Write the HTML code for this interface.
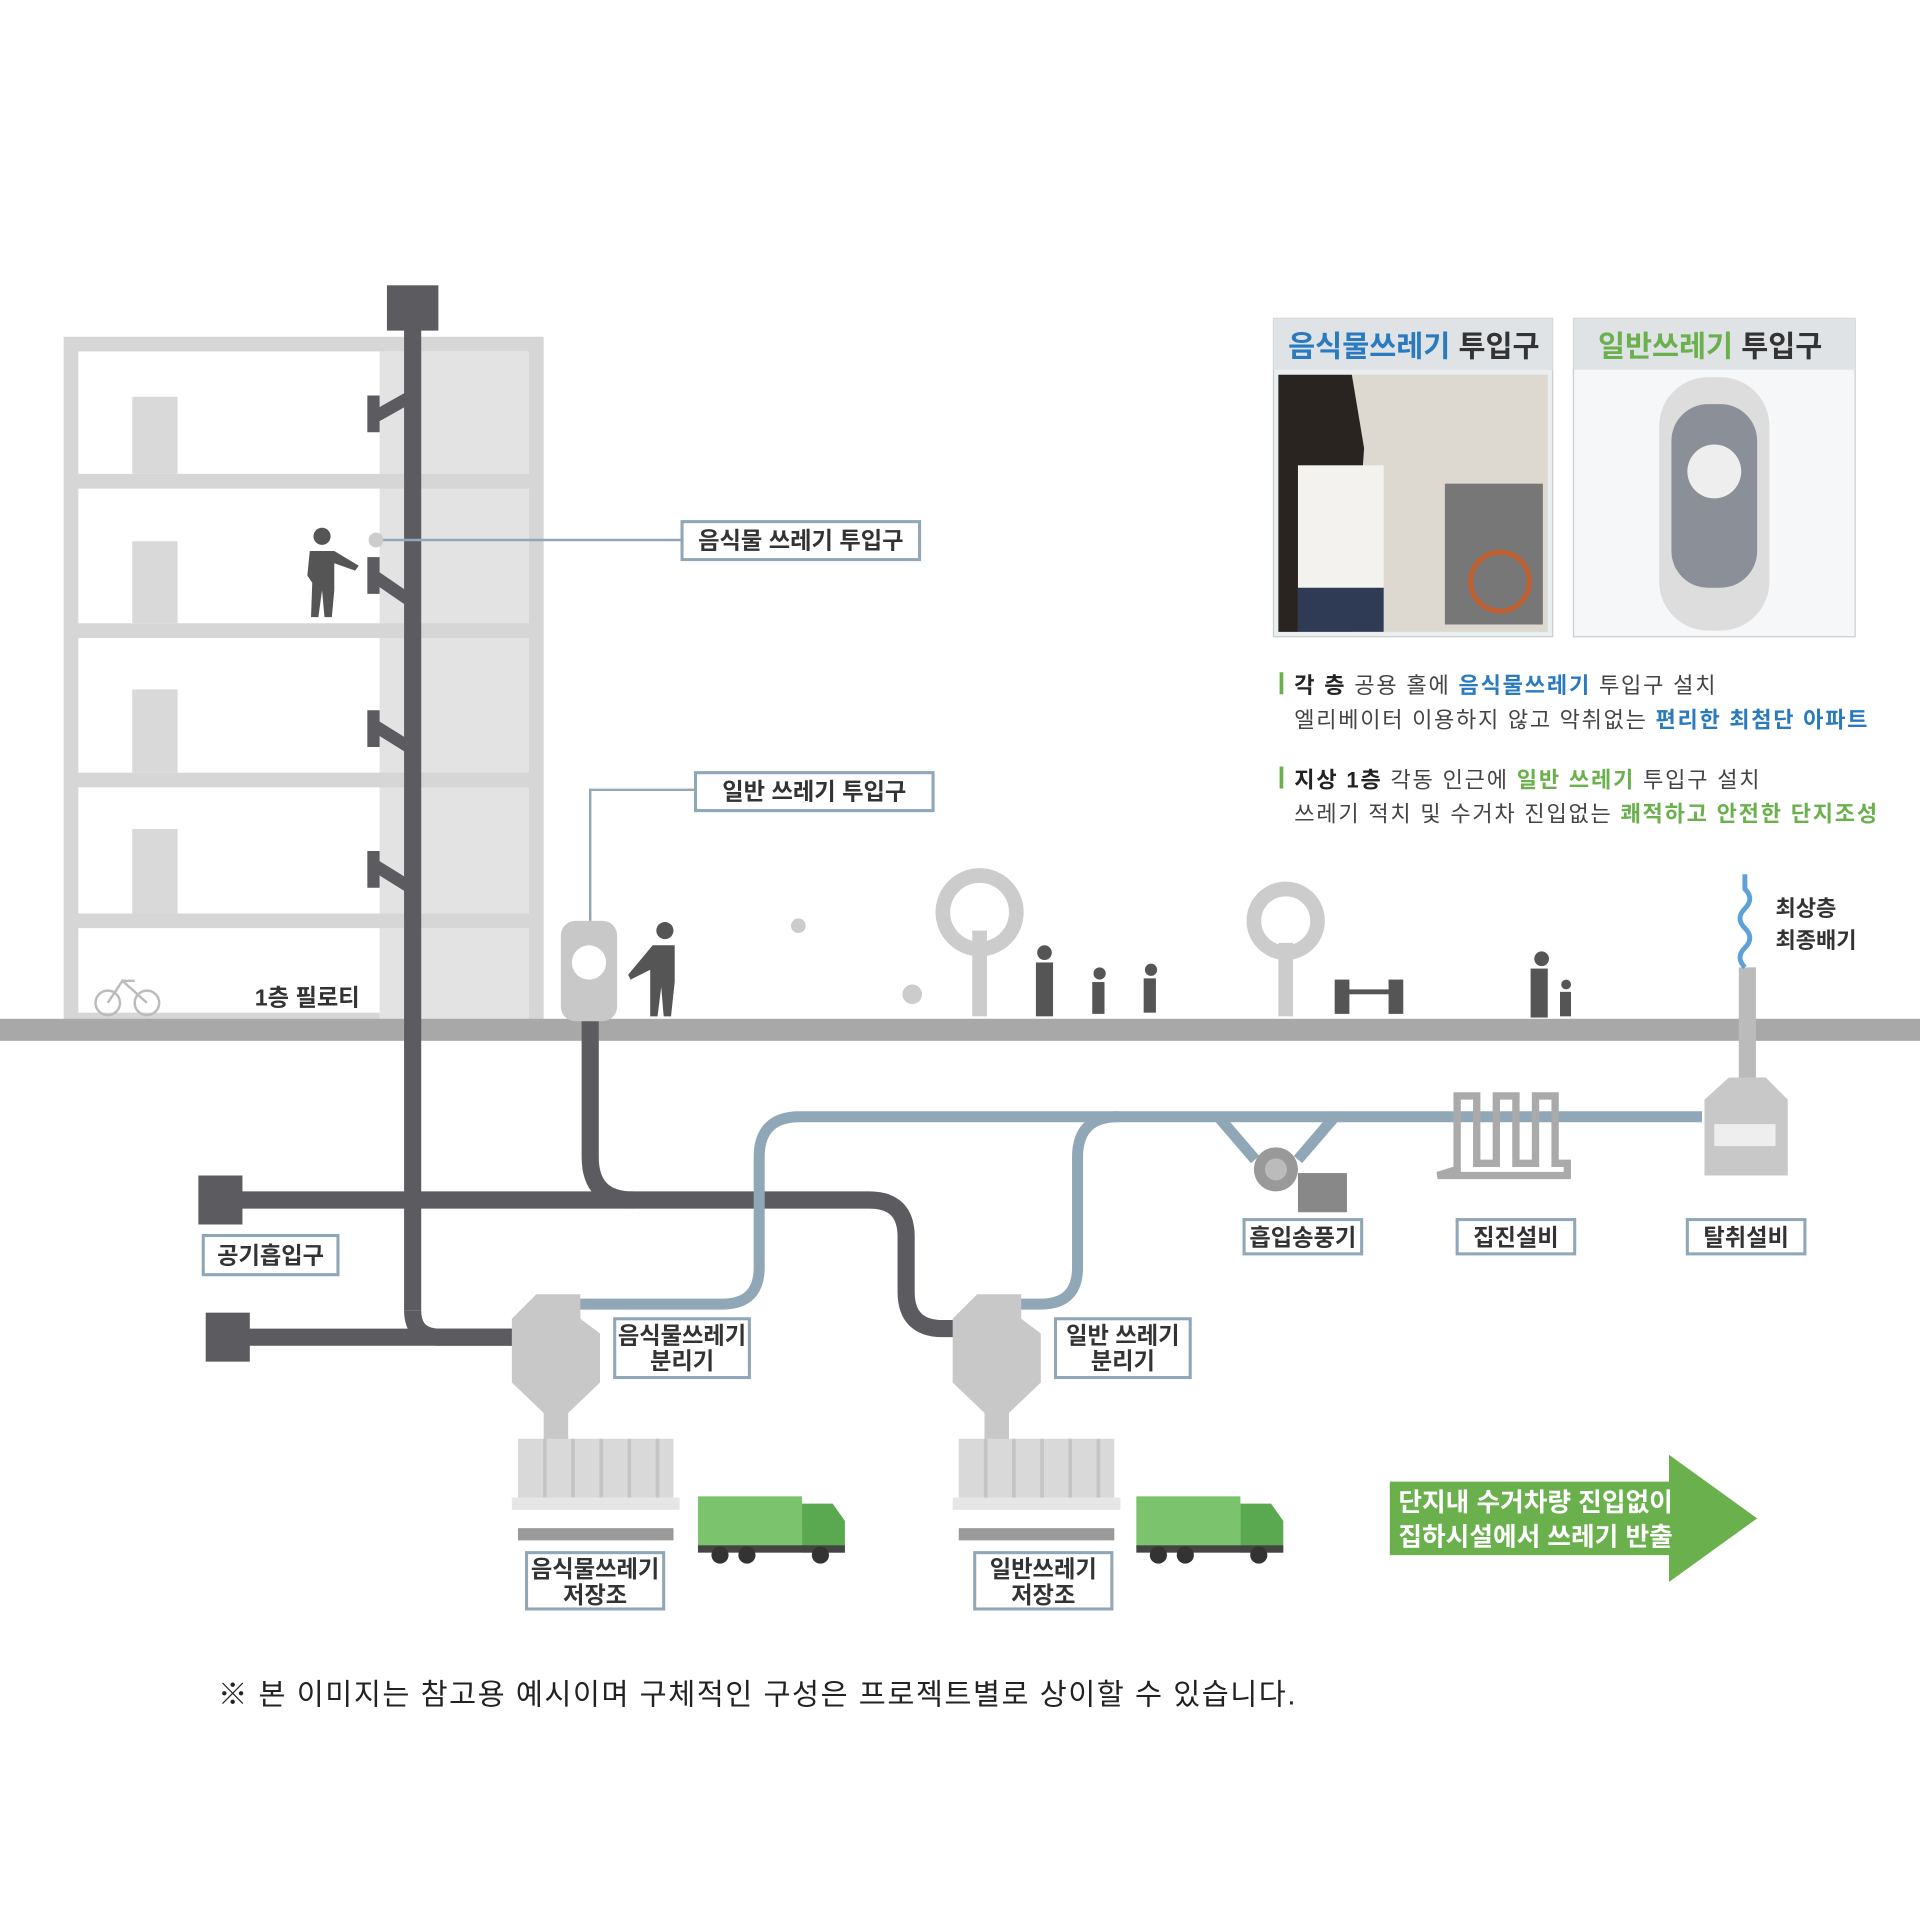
<!DOCTYPE html>
<html><head><meta charset="utf-8"><style>
html,body{margin:0;padding:0;background:#fff;}
svg{display:block;}
text{font-family:"Liberation Sans","Noto Sans CJK KR",sans-serif;}
</style></head><body>
<svg width="1920" height="1920" viewBox="0 0 1568 1568" xmlns="http://www.w3.org/2000/svg">
<rect width="1568" height="1568" fill="#fff"/>
<!-- building -->
<g fill="none" stroke="#d6d6d6" stroke-width="12">
<rect x="58" y="281" width="380" height="552"/>
<line x1="58" y1="393" x2="438" y2="393"/>
<line x1="58" y1="515" x2="438" y2="515"/>
<line x1="58" y1="637" x2="438" y2="637"/>
<line x1="58" y1="752" x2="438" y2="752"/>
</g>
<rect x="310" y="287" width="122" height="546" fill="#e3e3e3"/>
<g stroke="#d6d6d6" stroke-width="12"><line x1="310" y1="393" x2="432" y2="393"/><line x1="310" y1="515" x2="432" y2="515"/><line x1="310" y1="637" x2="432" y2="637"/><line x1="310" y1="752" x2="432" y2="752"/></g>
<g fill="#d9d9d9"><rect x="108" y="324" width="37" height="63"/><rect x="108" y="442" width="37" height="67"/><rect x="108" y="563" width="37" height="68"/><rect x="108" y="677" width="37" height="69"/></g>
<g fill="#555"><circle cx="263" cy="438" r="7"/><path d="M253 450 h20 l20 12 -3 4 -17 -6 v22 l-2 22 h-6 l-2 -22 -3 22 h-6 l1 -28 -4 -6z"/></g>
<text x="208" y="821" font-size="19" font-weight="bold" fill="#333">1층 필로티</text>
<g stroke="#bbb" stroke-width="2" fill="none"><circle cx="88" cy="819" r="10"/><circle cx="120" cy="819" r="10"/><path d="M88 819 l12 -18 l20 18 M100 801 l10 0"/></g>
<g stroke="#5b5b60" stroke-width="10" fill="none">
<path d="M305 323 v30 M305 341 l32 -18"/>
<path d="M305 455 v30 M305 470 l32 22"/>
<path d="M305 580 v30 M305 592 l32 20"/>
<path d="M305 695 v30 M305 706 l32 20"/>
</g>
<rect x="0" y="832" width="1568" height="18" fill="#a8a8a8"/>
<g stroke="#5b5b60" stroke-width="14" fill="none" stroke-linejoin="round">
<line x1="337" y1="260" x2="337" y2="1070"/>
<path d="M337 1070 q0 22 22 22 h70"/>
<path d="M180 980 h530 q30 0 30 30 v45 q0 30 30 30 h20"/>
<path d="M482 830 v115 q0 35 35 35"/>
<line x1="180" y1="1092" x2="420" y2="1092"/>
</g>
<rect x="316" y="233" width="42" height="37" fill="#5b5b60"/>
<rect x="162" y="960" width="36" height="40" fill="#5b5b60"/>
<rect x="168" y="1072" width="36" height="40" fill="#5b5b60"/>
<g stroke="#8fa7b6" stroke-width="9" fill="none">
<path d="M470 1065 h120 q30 0 30 -30 v-90 q0 -33 33 -33 h737"/>
<path d="M830 1065 h20 q30 0 30 -30 v-90 q0 -33 33 -33"/>
<path d="M995 912 l30 35 M1090 912 l-30 35"/>
</g>
<g fill="#c8c8c8">
<path d="M438 1057 h36 v20 l16 12 v40 l-26 25 v35 h-20 v-35 l-26 -25 v-52z"/>
<path d="M798 1057 h36 v20 l16 12 v40 l-26 25 v35 h-20 v-35 l-26 -25 v-52z"/>
<rect x="423" y="1175" width="127" height="48" fill="#d9d9d9"/>
<rect x="783" y="1175" width="127" height="48" fill="#d9d9d9"/>
<rect x="418" y="1223" width="137" height="10" fill="#e6e6e6"/>
<rect x="778" y="1223" width="137" height="10" fill="#e6e6e6"/>
<rect x="423" y="1248" width="127" height="10" fill="#9a9a9a"/>
<rect x="783" y="1248" width="127" height="10" fill="#9a9a9a"/>
</g>
<g stroke="#c4c4c4" stroke-width="3"><path d="M445 1175v48M468 1175v48M491 1175v48M514 1175v48M537 1175v48M805 1175v48M828 1175v48M851 1175v48M874 1175v48M897 1175v48"/></g>
<g>
<rect x="570" y="1222" width="85" height="42" fill="#7cc36e"/><path d="M655 1228 h25 l10 14 v26 h-35z" fill="#5aa850"/><rect x="570" y="1262" width="120" height="6" fill="#444"/>
<circle cx="588" cy="1270" r="7" fill="#333"/><circle cx="610" cy="1270" r="7" fill="#333"/><circle cx="670" cy="1270" r="7" fill="#333"/>
<rect x="928" y="1222" width="85" height="42" fill="#7cc36e"/><path d="M1013 1228 h25 l10 14 v26 h-35z" fill="#5aa850"/><rect x="928" y="1262" width="120" height="6" fill="#444"/>
<circle cx="946" cy="1270" r="7" fill="#333"/><circle cx="968" cy="1270" r="7" fill="#333"/><circle cx="1028" cy="1270" r="7" fill="#333"/>
</g>
<circle cx="1042" cy="955" r="18" fill="#999"/><circle cx="1042" cy="955" r="9" fill="#bbb"/>
<rect x="1060" y="958" width="40" height="32" fill="#888"/>
<path d="M1190 955 v-60 h16 v55 h16 v-55 h16 v55 h16 v-55 h16 v55 h10 v10 h-106z" fill="none" stroke="#aaa" stroke-width="6"/>
<rect x="1420" y="790" width="14" height="90" fill="#bbb"/>
<path d="M1412 880 h30 l18 18 v62 h-68 v-62z" fill="#c8c8c8"/><rect x="1400" y="918" width="50" height="18" fill="#eee"/>
<path d="M1425 790 q-8 -8 0 -16 q8 -8 0 -16 q-8 -8 0 -16 q8 -8 0 -16 l0 -12" stroke="#5ea0d8" stroke-width="4" fill="none"/>
<text x="1450" y="748" font-size="18" font-weight="bold" fill="#333">최상층</text>
<text x="1450" y="774" font-size="18" font-weight="bold" fill="#333">최종배기</text>
<rect x="458" y="752" width="46" height="82" rx="12" fill="#c8c8c8"/><circle cx="481" cy="786" r="14" fill="#fff"/>
<g fill="#555"><circle cx="543" cy="760" r="7"/><path d="M533 772 h18 v30 l-3 28 h-6 l-2 -24 -3 24 h-6 v-38 l-16 8 -2 -4z"/></g>
<g fill="none" stroke="#ccc" stroke-width="12"><circle cx="800" cy="745" r="30"/><line x1="800" y1="760" x2="800" y2="830"/><circle cx="1050" cy="752" r="26"/><line x1="1050" y1="770" x2="1050" y2="830"/></g>
<g fill="#555"><circle cx="853" cy="778" r="6"/><rect x="846" y="786" width="14" height="44"/><circle cx="898" cy="795" r="5"/><rect x="892" y="802" width="10" height="26"/><circle cx="940" cy="792" r="5"/><rect x="934" y="799" width="10" height="28"/>
<rect x="1090" y="800" width="12" height="28"/><rect x="1134" y="800" width="12" height="28"/><rect x="1100" y="808" width="36" height="4"/><circle cx="1259" cy="783" r="6"/><rect x="1250" y="791" width="14" height="40"/><circle cx="1279" cy="804" r="4"/><rect x="1274" y="810" width="9" height="20"/></g>
<g fill="#ccc"><circle cx="745" cy="812" r="8"/><circle cx="652" cy="756" r="6"/></g>
<g fill="#fff" stroke="#8fa7b6" stroke-width="2.5">
<rect x="557" y="426" width="194" height="31"/>
<rect x="568" y="631" width="194" height="31"/>
<rect x="166" y="1009" width="110" height="32"/>
<rect x="502" y="1077" width="110" height="48"/>
<rect x="862" y="1077" width="110" height="48"/>
<rect x="430" y="1268" width="112" height="46"/>
<rect x="796" y="1268" width="112" height="46"/>
<rect x="1016" y="996" width="96" height="28"/>
<rect x="1190" y="996" width="96" height="28"/>
<rect x="1378" y="996" width="96" height="28"/>
</g>
<g stroke="#8fa7b6" stroke-width="2" fill="none"><path d="M307 441 h250"/><path d="M568 645 h-86 v107"/></g>
<circle cx="307" cy="441" r="6" fill="#ccc"/>
<g font-size="19" font-weight="bold" fill="#333" text-anchor="middle">
<text x="654" y="448">음식물 쓰레기 투입구</text>
<text x="665" y="653">일반 쓰레기 투입구</text>
<text x="221" y="1032">공기흡입구</text>
<text x="557" y="1097">음식물쓰레기</text><text x="557" y="1118">분리기</text>
<text x="917" y="1097">일반 쓰레기</text><text x="917" y="1118">분리기</text>
<text x="486" y="1288">음식물쓰레기</text><text x="486" y="1309">저장조</text>
<text x="852" y="1288">일반쓰레기</text><text x="852" y="1309">저장조</text>
<text x="1064" y="1017">흡입송풍기</text>
<text x="1238" y="1017">집진설비</text>
<text x="1426" y="1017">탈취설비</text>
</g>
<rect x="1040" y="260" width="228" height="260" fill="#e9eef1" stroke="#ccc"/>
<rect x="1285" y="260" width="230" height="260" fill="#f6f7f8" stroke="#ccc"/>
<rect x="1040" y="260" width="228" height="42" fill="#dfe3e6"/><rect x="1285" y="260" width="230" height="42" fill="#dfe3e6"/>
<rect x="1044" y="306" width="220" height="210" fill="#ddd8d0"/>
<path d="M1044 306 h60 l10 60 -10 150 h-60z" fill="#2a2420"/><rect x="1060" y="380" width="70" height="136" fill="#f4f2ee"/><rect x="1060" y="480" width="70" height="36" fill="#2f3a55"/>
<rect x="1180" y="395" width="80" height="115" fill="#777"/><circle cx="1225" cy="475" r="24" fill="none" stroke="#c06030" stroke-width="4"/>
<rect x="1355" y="308" width="90" height="207" rx="40" fill="#ddd"/><rect x="1365" y="330" width="70" height="150" rx="30" fill="#8a8f98"/><circle cx="1400" cy="385" r="22" fill="#eee"/>
<g font-size="24" font-weight="bold"><text x="1052" y="291" fill="#2a7ac0">음식물쓰레기 <tspan fill="#333">투입구</tspan></text>
<text x="1305" y="291" fill="#6ab04c">일반쓰레기 <tspan fill="#333">투입구</tspan></text></g>
<g font-size="18" fill="#444">
<rect x="1045" y="549" width="3" height="18" fill="#6ab04c"/>
<text x="1057" y="566" textLength="344" lengthAdjust="spacing"><tspan font-weight="bold" fill="#222">각 층</tspan> 공용 홀에 <tspan fill="#2a7ac0" font-weight="bold">음식물쓰레기</tspan> 투입구 설치</text>
<text x="1057" y="594" textLength="468" lengthAdjust="spacing">엘리베이터 이용하지 않고 악취없는 <tspan fill="#2a7ac0" font-weight="bold">편리한 최첨단 아파트</tspan></text>
<rect x="1045" y="626" width="3" height="18" fill="#6ab04c"/>
<text x="1057" y="643" textLength="380" lengthAdjust="spacing"><tspan font-weight="bold" fill="#222">지상 1층</tspan> 각동 인근에 <tspan fill="#6ab04c" font-weight="bold">일반 쓰레기</tspan> 투입구 설치</text>
<text x="1057" y="671" textLength="476" lengthAdjust="spacing">쓰레기 적치 및 수거차 진입없는 <tspan fill="#6ab04c" font-weight="bold">쾌적하고 안전한 단지조성</tspan></text>
</g>
<path d="M1135 1210 h228 v-22 l72 52 -72 52 v-22 h-228z" fill="#6ab04c"/>
<text x="1142" y="1234" font-size="21" font-weight="bold" fill="#fff">단지내 수거차량 진입없이</text>
<text x="1142" y="1262" font-size="21" font-weight="bold" fill="#fff">집하시설에서 쓰레기 반출</text>
<text x="178" y="1392" font-size="24" fill="#222" textLength="880" lengthAdjust="spacing">※ 본 이미지는 참고용 예시이며 구체적인 구성은 프로젝트별로 상이할 수 있습니다.</text>
</svg>
</body></html>
